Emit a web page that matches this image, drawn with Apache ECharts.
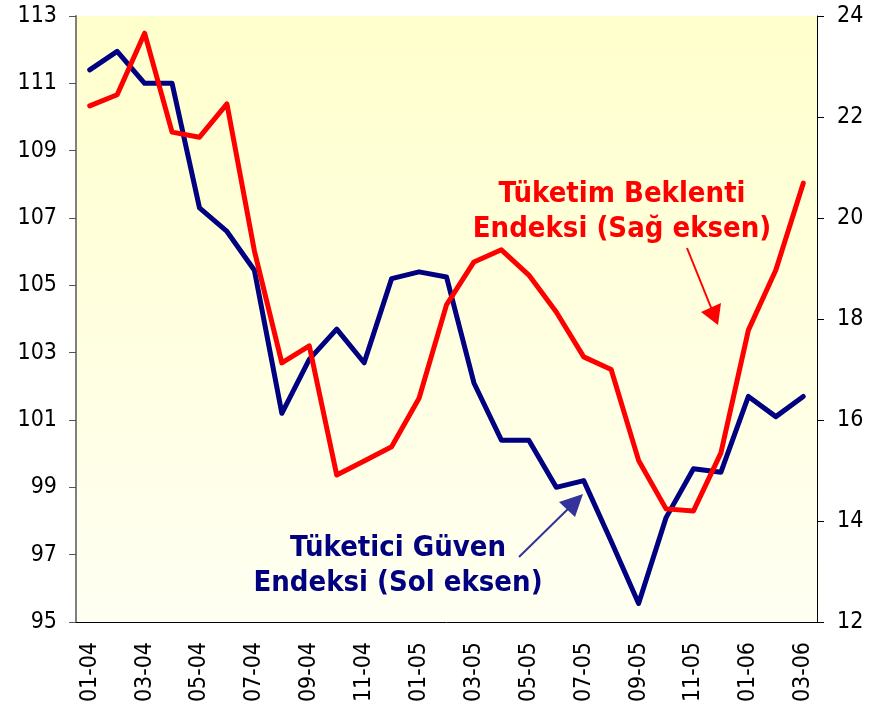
<!DOCTYPE html>
<html>
<head>
<meta charset="utf-8">
<script src="https://cdn.jsdelivr.net/npm/echarts@6/dist/echarts.min.js"></script>
<style>
  html, body { margin: 0; padding: 0; background: #fff; }
  #chart { width: 877px; height: 710px; }
</style>
</head>
<body>
<div id="chart"></div>
<script>
// Months 01-04 .. 03-06
const months = [
    '01-04', '02-04', '03-04', '04-04', '05-04', '06-04', '07-04', '08-04', '09-04',
    '10-04', '11-04', '12-04', '01-05', '02-05', '03-05', '04-05', '05-05', '06-05',
    '07-05', '08-05', '09-05', '10-05', '11-05', '12-05', '01-06', '02-06', '03-06',
];

// Tüketici Güven Endeksi (left axis)
const guvenEndeksi = [
    111.4, 111.95, 111.0, 111.0, 107.3, 106.6, 105.45, 101.2, 102.8,
    103.7, 102.7, 105.2, 105.4, 105.25, 102.1, 100.4, 100.4, 99.0,
    99.2, 97.4, 95.55, 98.1, 99.55, 99.45, 101.7, 101.1, 101.7,
];

// Tüketim Beklenti Endeksi (right axis)
const beklentiEndeksi = [
    22.22, 22.44, 23.66, 21.7, 21.6, 22.26, 19.35, 17.13, 17.47,
    14.91, 15.19, 15.47, 16.43, 18.28, 19.13, 19.37, 18.87, 18.14,
    17.25, 17.0, 15.2, 14.24, 14.2, 15.35, 17.78, 18.97, 20.69,
];

const FONT = '"DejaVu Sans Condensed", "DejaVu Sans", sans-serif';
const NAVY = '#000080';
const RED = '#ff0000';

const chart = echarts.init(document.getElementById('chart'), null, { renderer: 'canvas' });

const labelStyle = { color: '#000', fontFamily: FONT, fontSize: 23 };

function arrow(x1, y1, x2, y2, head, color, width) {
    return [
        { type: 'line', shape: { x1, y1, x2, y2 }, style: { stroke: color, lineWidth: width }, z: 100 },
        { type: 'polygon', shape: { points: head }, style: { fill: color }, z: 100 },
    ];
}

function note(text, cx, top, color) {
    return {
        type: 'text', x: cx, y: top, z: 100,
        style: {
            text, fill: color, font: 'bold 29px ' + FONT,
            align: 'center', verticalAlign: 'top', lineHeight: 35,
        },
    };
}

chart.setOption({
    backgroundColor: '#fff',
    animation: false,
    grid: {
        left: 76, right: 60, top: 16, bottom: 88,
        show: true,
        borderWidth: 0,
        backgroundColor: new echarts.graphic.LinearGradient(0, 0, 0, 1, [
            { offset: 0, color: '#ffffcc' },
            { offset: 1, color: '#fffff2' },
        ]),
    },
    xAxis: {
        type: 'category',
        data: months,
        boundaryGap: true,
        axisLine: { lineStyle: { color: '#000', width: 1 } },
        axisTick: { interval: 1, length: 6, lineStyle: { color: '#555' } },
        axisLabel: { ...labelStyle, interval: 1, rotate: 90, margin: 20 },
        splitLine: { show: false },
    },
    yAxis: [
        {
            type: 'value', min: 95, max: 113, interval: 2, position: 'left',
            axisLine: { show: true, lineStyle: { color: '#808080', width: 2 } },
            axisTick: { show: true, length: 7, lineStyle: { color: '#555' } },
            axisLabel: { ...labelStyle, margin: 19 },
            splitLine: { show: false },
        },
        {
            type: 'value', min: 12, max: 24, interval: 2, position: 'right',
            axisLine: { show: true, lineStyle: { color: '#000', width: 1 } },
            axisTick: { show: true, length: 7, lineStyle: { color: '#000' } },
            axisLabel: { ...labelStyle, margin: 20 },
            splitLine: { show: false },
        },
    ],
    series: [
        {
            name: 'Tüketici Güven Endeksi', type: 'line', data: guvenEndeksi, yAxisIndex: 0,
            symbol: 'none', lineStyle: { color: NAVY, width: 5, join: 'round', cap: 'round' },
        },
        {
            name: 'Tüketim Beklenti Endeksi', type: 'line', data: beklentiEndeksi, yAxisIndex: 1,
            symbol: 'none', lineStyle: { color: RED, width: 5, join: 'round', cap: 'round' },
        },
    ],
    graphic: [
        note('Tüketim Beklenti\nEndeksi (Sağ eksen)', 622, 177, RED),
        note('Tüketici Güven\nEndeksi (Sol eksen)', 398, 531, NAVY),
        ...arrow(687, 248, 712, 310, [[701, 312], [721, 303], [718, 325]], RED, 2),
        ...arrow(519, 557, 570, 507, [[559, 502], [583, 494], [575, 517]], '#333399', 2),
    ],
});
</script>
</body>
</html>
